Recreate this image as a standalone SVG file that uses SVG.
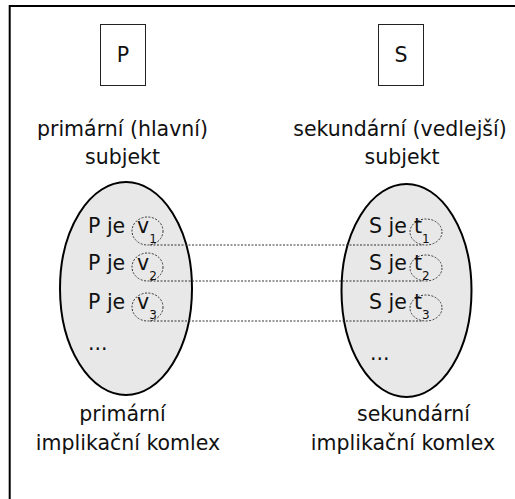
<svg xmlns="http://www.w3.org/2000/svg" width="515" height="499" viewBox="0 0 515 499">
<style>
text{font-family:"DejaVu Sans","Open Sans",sans-serif;fill:#111;}
.lbl{font-size:20.5px;text-anchor:middle;}
.row{font-size:20.5px;}
.sub{font-size:12px;}
.box{fill:#fff;stroke:#222;stroke-width:1;}
.oval{fill:#e8e8e8;stroke:#000;stroke-width:2;}
.dot{fill:none;stroke:#333;stroke-width:1;stroke-dasharray:2,1.5;}
</style>
<rect x="9.7" y="6" width="520" height="510" fill="#fff" stroke="#000" stroke-width="2"/>
<g id="P">
<rect class="box" x="100.5" y="24.5" width="45" height="61"/>
<text class="lbl" x="123" y="62">P</text>
</g>
<g id="S">
<rect class="box" x="378.5" y="24.5" width="45" height="61"/>
<text class="lbl" x="401" y="62">S</text>
</g>
<g id="label-primary">
<text class="lbl" x="122.5" y="136">primární (hlavní)</text>
<text class="lbl" x="122.5" y="164">subjekt</text>
</g>
<g id="label-secondary">
<text class="lbl" x="400" y="136">sekundární (vedlejší)</text>
<text class="lbl" x="402" y="164">subjekt</text>
</g>
<g id="complex-primary">
<ellipse class="oval" cx="126" cy="288.5" rx="66" ry="106.5"/>
<text class="row" x="88" y="233">P je</text>
<text class="row" x="88" y="270">P je</text>
<text class="row" x="88" y="309">P je</text>
<ellipse class="dot" cx="147.5" cy="231" rx="15.5" ry="14"/>
<ellipse class="dot" cx="147.5" cy="267" rx="15.5" ry="14"/>
<ellipse class="dot" cx="147.5" cy="307" rx="15.5" ry="14"/>
<text class="row" x="137" y="233">v<tspan class="sub" dy="10">1</tspan></text>
<text class="row" x="137" y="270">v<tspan class="sub" dy="10">2</tspan></text>
<text class="row" x="137" y="309">v<tspan class="sub" dy="10">3</tspan></text>
<text class="row" x="88" y="350">...</text>
</g>
<g id="complex-secondary">
<ellipse class="oval" cx="406.5" cy="290.5" rx="65" ry="106.5"/>
<text class="row" x="369" y="233">S je</text>
<text class="row" x="369" y="270">S je</text>
<text class="row" x="369" y="309">S je</text>
<ellipse class="dot" cx="426" cy="232" rx="16" ry="13"/>
<ellipse class="dot" cx="426" cy="268" rx="16" ry="13"/>
<ellipse class="dot" cx="426" cy="308" rx="16" ry="13"/>
<text class="row" x="414" y="233">t<tspan class="sub" dy="10">1</tspan></text>
<text class="row" x="414" y="270">t<tspan class="sub" dy="10">2</tspan></text>
<text class="row" x="414" y="309">t<tspan class="sub" dy="10">3</tspan></text>
<text class="row" x="370" y="360">...</text>
</g>
<g id="connectors">
<line class="dot" x1="150" y1="245" x2="423" y2="245"/>
<line class="dot" x1="150" y1="281" x2="423" y2="281"/>
<line class="dot" x1="150" y1="321" x2="423" y2="321"/>
</g>
<g id="label-primary-complex">
<text class="lbl" x="122.5" y="421">primární</text>
<text class="lbl" x="128" y="450">implikační komlex</text>
</g>
<g id="label-secondary-complex">
<text class="lbl" x="413.5" y="421">sekundární</text>
<text class="lbl" x="403" y="450">implikační komlex</text>
</g>
</svg>
